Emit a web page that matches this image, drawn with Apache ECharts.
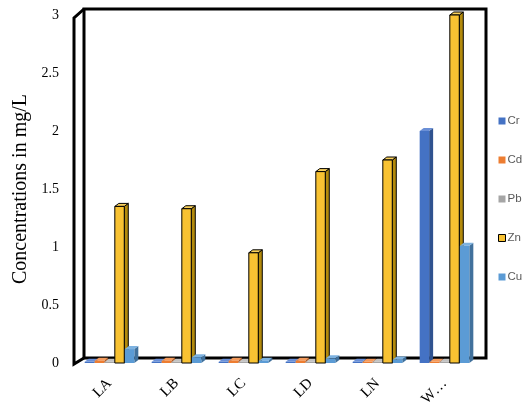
<!DOCTYPE html>
<html><head><meta charset="utf-8">
<script src="https://cdn.jsdelivr.net/npm/echarts@6/dist/echarts.min.js"></script>
<style>html,body{margin:0;padding:0;background:#fff}#c{width:529px;height:411px}</style>
</head><body><div id="c"></div>
<script>
const categories = ['LA','LB','LC','LD','LN','W…'];
const Cr = [0.01,0.01,0.01,0.01,0.01,2.0];
const Cd = [0.02,0.02,0.02,0.02,0.01,0.01];
const Pb = [0.01,0.01,0.01,0.01,0.01,0.01];
const Zn = [1.35,1.33,0.95,1.65,1.75,3.0];
const Cu = [0.12,0.05,0.02,0.04,0.03,1.01];
const yTicks = [0,0.5,1,1.5,2,2.5,3];

const seriesDefs = [
  {name:'Cr', data:Cr, front:'#4472C4', side:'#2F528F', top:'#6A8FD6', border:null},
  {name:'Cd', data:Cd, front:'#ED7D31', side:'#B05A22', top:'#F39A5C', border:null},
  {name:'Pb', data:Pb, front:'#A5A5A5', side:'#7B7B7B', top:'#C2C2C2', border:null},
  {name:'Zn', data:Zn, front:'#F8C232', side:'#B38A0C', top:'#FAD15C', border:'#000'},
  {name:'Cu', data:Cu, front:'#5B9BD5', side:'#41719C', top:'#7DB2E0', border:null}
];
const nS = seriesDefs.length;
const DX = 4, DY = -3;

function makeRender(si){
  const d = seriesDefs[si];
  return function(params, api){
    const idx = api.value(0), val = api.value(1);
    const base = api.coord([idx, 0]);
    const topP = api.coord([idx, val]);
    const band = api.size([1,0])[0];
    const step = band*0.75/nS;
    const w = step - 0.6;
    const x0 = base[0] + (si - (nS-1)/2)*step - w/2;
    const x1 = x0 + w;
    const yb = base[1], yt = topP[1];
    const st = d.border ? {stroke:d.border, lineWidth:1} : {};
    return {type:'group', children:[
      {type:'polygon', shape:{points:[[x1,yt],[x1+DX,yt+DY],[x1+DX,yb+DY],[x1,yb]]},
        style:Object.assign({fill:d.side}, st)},
      {type:'polygon', shape:{points:[[x0,yt],[x0+DX,yt+DY],[x1+DX,yt+DY],[x1,yt]]},
        style:Object.assign({fill:d.top}, st)},
      {type:'rect', shape:{x:x0, y:yt, width:w, height:yb-yt},
        style:Object.assign({fill:d.front}, st)}
    ]};
  };
}

const chart = echarts.init(document.getElementById('c'));
const option = {
  animation:false,
  grid:{left:76, right:51, top:15, bottom:48},
  legend:{
    orient:'vertical', left:493, top:109, itemWidth:7, itemHeight:7, itemGap:25,
    icon:'rect',
    textStyle:{fontFamily:'Liberation Sans', fontSize:11.5, color:'#595959', lineHeight:14, padding:[0,0,0,-3]},
    data: seriesDefs.map(d=>({name:d.name, itemStyle: d.border?{color:d.front,borderColor:'#000',borderWidth:1}:{color:d.front}}))
  },
  xAxis:{
    type:'category', data:categories,
    axisLine:{show:false}, axisTick:{show:false},
    axisLabel:{rotate:45, margin:18, fontFamily:'Liberation Serif', fontSize:15, color:'#000'}
  },
  yAxis:{
    type:'value', min:0, max:3, interval:0.5,
    name:'Concentrations in mg/L', nameLocation:'middle', nameGap:42,
    nameTextStyle:{fontFamily:'Liberation Serif', fontSize:20, color:'#000'},
    axisLine:{show:false}, axisTick:{show:false}, splitLine:{show:false},
    axisLabel:{margin:17, fontFamily:'Liberation Serif', fontSize:14, color:'#000',
      formatter:v=>String(v)}
  },
  series: seriesDefs.map((d,i)=>({
    type:'custom', name:d.name, renderItem:makeRender(i),
    itemStyle:{color:d.front},
    encode:{x:0,y:1},
    data:d.data.map((v,k)=>[k,v]),
    z: 10
  }))
};
chart.setOption(option);

// walls
const p0 = chart.convertToPixel({xAxisIndex:0,yAxisIndex:0},[0,0]);
const p5 = chart.convertToPixel({xAxisIndex:0,yAxisIndex:0},[categories.length-1,3]);
const band = (p5[0]-p0[0])/(categories.length-1);
const L = p0[0]-band/2, R = p5[0]+band/2, B = p0[1], T = p5[1];
const WX = 8, WY = -6;
const ls = {stroke:'#000', lineWidth:3, fill:null, lineJoin:'miter'};
chart.setOption({graphic:[
  {type:'rect', z:1, shape:{x:L+WX, y:T+WY, width:R-L, height:B-T+1}, style:Object.assign({}, ls)},
  {type:'polyline', z:1, shape:{points:[[L+WX,T+WY],[L-2,T+3],[L-2,B+1],[L+WX,B+WY+1]]}, style:Object.assign({}, ls)}
]});
</script></body></html>
